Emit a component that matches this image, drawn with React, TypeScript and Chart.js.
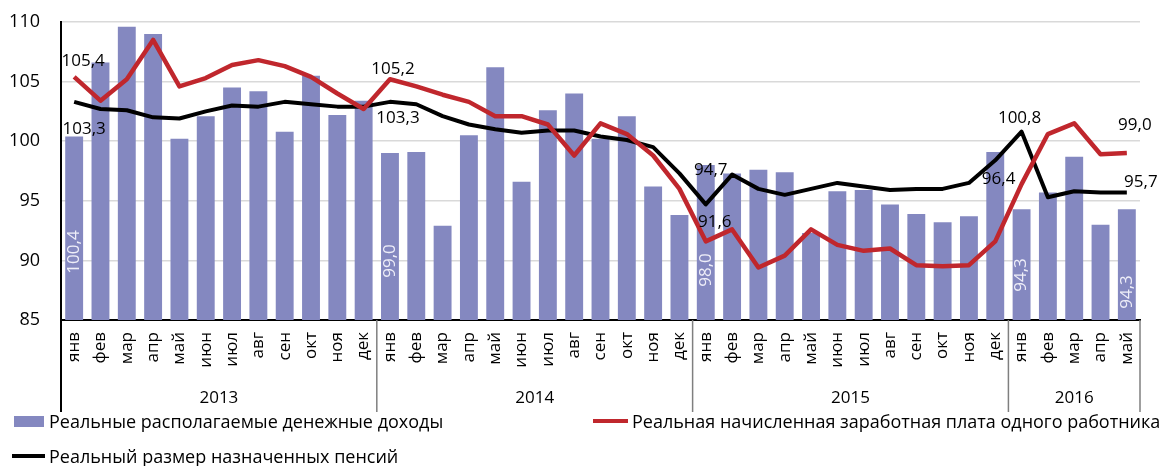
import React, { useEffect, useRef } from "react";
import { Chart, registerables } from "chart.js";

Chart.register(...registerables);

const monthNames = ["янв", "фев", "мар", "апр", "май", "июн", "июл", "авг", "сен", "окт", "ноя", "дек"];
const years = ["2013", "2014", "2015", "2016"];
const monthsInYear = [12, 12, 12, 5];

const months = years.flatMap((_, i) => monthNames.slice(0, monthsInYear[i]));

// реальные располагаемые денежные доходы, % к соотв. периоду предыдущего года
const income = [
  100.4, 106.6, 109.6, 109.0, 100.2, 102.1, 104.5, 104.2, 100.8, 105.5, 102.2, 103.4,
  99.0, 99.1, 92.9, 100.5, 106.2, 96.6, 102.6, 104.0, 100.2, 102.1, 96.2, 93.8,
  98.0, 97.3, 97.6, 97.4, 92.3, 95.8, 95.9, 94.7, 93.9, 93.2, 93.7, 99.1,
  94.3, 95.7, 98.7, 93.0, 94.3,
];

// реальная начисленная заработная плата
const wage = [
  105.4, 103.4, 105.2, 108.5, 104.6, 105.3, 106.4, 106.8, 106.3, 105.4, 104.0, 102.7,
  105.2, 104.6, 103.9, 103.3, 102.1, 102.1, 101.4, 98.8, 101.5, 100.6, 98.8, 96.0,
  91.6, 92.6, 89.4, 90.4, 92.6, 91.3, 90.8, 91.0, 89.6, 89.5, 89.6, 91.6,
  96.4, 100.6, 101.5, 98.9, 99.0,
];

// реальный размер назначенных пенсий
const pension = [
  103.3, 102.7, 102.6, 102.0, 101.9, 102.5, 103.0, 102.9, 103.3, 103.1, 102.9, 102.9,
  103.3, 103.1, 102.1, 101.4, 101.0, 100.7, 100.9, 100.9, 100.4, 100.1, 99.5, 97.3,
  94.7, 97.2, 96.0, 95.5, 96.0, 96.5, 96.2, 95.9, 96.0, 96.0, 96.5, 98.4,
  100.8, 95.3, 95.8, 95.7, 95.7,
];

const yTicks = [85, 90, 95, 100, 105, 110];

const BAR_COLOR = "#8488C0";
const RED = "#C0272D";
const BLACK = "#000000";
const FONT = "'Open Sans', sans-serif";

// which points carry a value label, and where it sits relative to the point
const lineLabels = [
  { ds: 1, i: 0, dx: 9, dy: -16 },
  { ds: 2, i: 0, dx: 10, dy: 27 },
  { ds: 1, i: 12, dx: 3, dy: -10 },
  { ds: 2, i: 12, dx: 8, dy: 16 },
  { ds: 2, i: 24, dx: 5, dy: -34 },
  { ds: 1, i: 24, dx: 9, dy: -19 },
  { ds: 2, i: 36, dx: -2, dy: -14 },
  { ds: 1, i: 36, dx: -23, dy: -5 },
  { ds: 1, i: 40, dx: 8, dy: -28 },
  { ds: 2, i: 40, dx: 14, dy: -10 },
];
const barLabels = [
  { i: 0, y: 252 },
  { i: 12, y: 261 },
  { i: 24, y: 270 },
  { i: 36, y: 275 },
  { i: 40, y: 292 },
];

const fmt = (v: number) => v.toFixed(1).replace(".", ",");

const overlayPlugin = {
  id: "overlay",
  afterDatasetsDraw(chart: any) {
    const { ctx } = chart;
    const x = chart.scales.x;
    const y = chart.scales.y;
    ctx.save();
    ctx.font = `17px ${FONT}`;
    ctx.textBaseline = "middle";

    // bar labels, vertical
    ctx.fillStyle = "#EEEEF8";
    barLabels.forEach((b) => {
      const px = x.getPixelForValue(b.i);
      ctx.save();
      ctx.translate(px, b.y);
      ctx.rotate(-Math.PI / 2);
      ctx.textAlign = "center";
      ctx.fillText(fmt(income[b.i]), 0, 0);
      ctx.restore();
    });

    // line labels
    ctx.fillStyle = "#000";
    ctx.textAlign = "center";
    lineLabels.forEach((l) => {
      const data = l.ds === 1 ? wage : pension;
      const px = x.getPixelForValue(l.i);
      const py = y.getPixelForValue(data[l.i]);
      ctx.fillText(fmt(data[l.i]), px + l.dx, py + l.dy);
    });
    ctx.restore();
  },
  afterDraw(chart: any) {
    const { ctx, chartArea } = chart;
    const x = chart.scales.x;
    const bottom = chartArea.bottom;
    const sepBottom = bottom + 92;
    ctx.save();

    // year labels and separators
    let start = 0;
    const bounds: number[] = [chartArea.left];
    monthsInYear.forEach((n, k) => {
      const end = start + n - 1;
      const right =
        k < monthsInYear.length - 1
          ? (x.getPixelForValue(end) + x.getPixelForValue(end + 1)) / 2
          : chartArea.right;
      bounds.push(right);
      const mid = (x.getPixelForValue(start) + x.getPixelForValue(end)) / 2;
      ctx.fillStyle = "#000";
      ctx.font = `17px ${FONT}`;
      ctx.textAlign = "center";
      ctx.textBaseline = "middle";
      ctx.fillText(years[k], mid, bottom + 78);
      start += n;
    });
    bounds.forEach((bx, k) => {
      ctx.beginPath();
      ctx.strokeStyle = k === 0 ? "#000" : "#7F7F7F";
      ctx.lineWidth = k === 0 ? 2 : 1.5;
      ctx.moveTo(bx, bottom);
      ctx.lineTo(bx, sepBottom);
      ctx.stroke();
    });
    ctx.restore();
  },
};

const App: React.FC = () => {
  const chartRef = useRef<HTMLCanvasElement | null>(null);

  useEffect(() => {
    if (!chartRef.current) return;
    const ctx = chartRef.current.getContext("2d");
    if (!ctx) return;

    const chart = new Chart(ctx, {
      type: "bar",
      data: {
        labels: months,
        datasets: [
          {
            type: "bar",
            label: "Реальные располагаемые денежные доходы",
            data: income,
            backgroundColor: BAR_COLOR,
            barPercentage: 0.68,
            categoryPercentage: 1,
            order: 3,
          },
          {
            type: "line",
            label: "Реальная начисленная заработная плата одного работника",
            data: wage,
            borderColor: RED,
            borderWidth: 4.5,
            pointRadius: 0,
            tension: 0,
            borderJoinStyle: "round",
            order: 1,
          },
          {
            type: "line",
            label: "Реальный размер назначенных пенсий",
            data: pension,
            borderColor: BLACK,
            borderWidth: 4,
            pointRadius: 0,
            tension: 0,
            borderJoinStyle: "round",
            order: 2,
          },
        ] as any,
      },
      options: {
        responsive: false,
        animation: false,
        layout: { padding: { top: 22, right: 21, left: 0, bottom: 0 } },
        plugins: {
          legend: { display: false },
          tooltip: { enabled: false },
        },
        scales: {
          x: {
            afterFit: (scale: any) => {
              scale.height = 146;
            },
            grid: { display: true, drawOnChartArea: false, drawTicks: false },
            border: { color: "#000", width: 2 },
            ticks: {
              color: "#000",
              font: { family: FONT, size: 17 },
              minRotation: 90,
              maxRotation: 90,
              autoSkip: false,
              padding: 12,
            },
          },
          y: {
            min: 85,
            max: 110,
            afterFit: (scale: any) => {
              scale.width = 61;
            },
            afterBuildTicks: (scale: any) => {
              scale.ticks = yTicks.map((v) => ({ value: v }));
            },
            // invisible tick marks push the labels away from the axis
            grid: { color: "#D9D9D9", lineWidth: 1.5, drawTicks: true, tickLength: 12, tickColor: "rgba(0,0,0,0)" },
            border: { color: "#000", width: 2 },
            ticks: {
              color: "#000",
              font: { family: FONT, size: 18 },
              padding: 9,
            },
          },
        },
      },
      plugins: [overlayPlugin],
    });

    return () => {
      chart.destroy();
    };
  }, []);

  const legendText: React.CSSProperties = {
    position: "absolute",
    fontFamily: FONT,
    fontSize: 18,
    color: "#000",
    lineHeight: "20px",
    whiteSpace: "nowrap",
  };

  return (
    <div style={{ position: "fixed", left: 0, top: 0, width: 1161, height: 466, background: "#fff" }}>
      <canvas ref={chartRef} width={1161} height={466} style={{ position: "absolute", left: 0, top: 0 }} />

      {/* Legend */}
      <span style={{ position: "absolute", left: 14, top: 416, width: 30, height: 11, background: BAR_COLOR }} />
      <span style={{ ...legendText, left: 49, top: 411 }}>Реальные располагаемые денежные доходы</span>

      <span style={{ position: "absolute", left: 593, top: 419, width: 35, height: 4, background: RED }} />
      <span style={{ ...legendText, left: 632, top: 411 }}>
        Реальная начисленная заработная плата одного работника
      </span>

      <span style={{ position: "absolute", left: 12, top: 454, width: 33, height: 4, background: BLACK }} />
      <span style={{ ...legendText, left: 49, top: 446 }}>Реальный размер назначенных пенсий</span>
    </div>
  );
};

export default App;
